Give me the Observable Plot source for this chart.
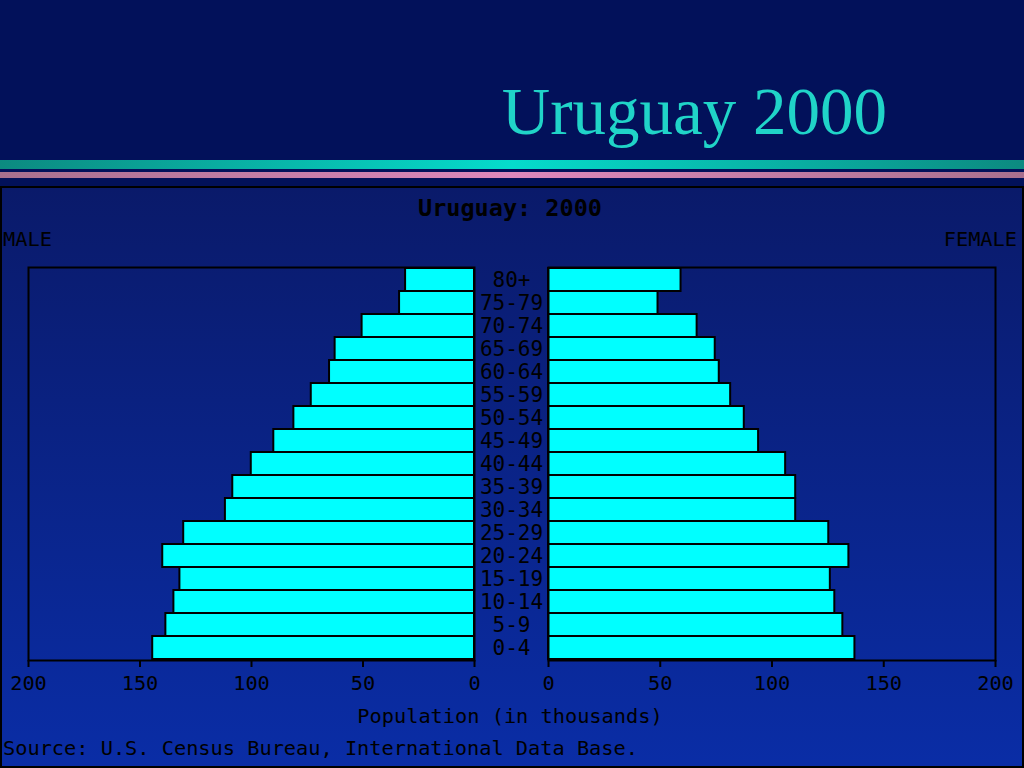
<!DOCTYPE html>
<html>
<head>
<meta charset="utf-8">
<script src="https://cdn.jsdelivr.net/npm/d3@7"></script>
<script src="https://cdn.jsdelivr.net/npm/@observablehq/plot@0.6"></script>
<style>
  html, body { margin: 0; padding: 0; }
  body { width: 1024px; height: 768px; background: #02115a; overflow: hidden; position: relative; }
  .abs { position: absolute; }
  .mono { font-family: "DejaVu Sans Mono", "Liberation Mono", monospace; color: #000; white-space: pre; }
  #title { left: 0; width: 887px; text-align: right; top: 71px; font-family: "Liberation Serif", "DejaVu Serif", serif; font-size: 67px; color: #20d4c8; line-height: 80px; }
  #line1 { left: 0; top: 160px; width: 1024px; height: 9px; background: linear-gradient(to right, #0c8a80, #05dccc 50%, #0c8a80); }
  #line2 { left: 0; top: 172px; width: 1024px; height: 6px; background: linear-gradient(to right, #a8708e, #de88bc 50%, #a8708e); }
  #box { left: 0; top: 186px; width: 1020px; height: 578px; border: 2px solid #000; background: linear-gradient(#0a1a6a, #0a2da6); }
  svg.plot { position: absolute; background: transparent; }
</style>
</head>
<body>
<div id="title" class="abs">Uruguay 2000</div>
<div id="line1" class="abs"></div>
<div id="line2" class="abs"></div>
<div id="box" class="abs"></div>
<div class="abs mono" id="ctitle" style="left:0;width:1020px;text-align:center;top:194px;font-size:23.5px;font-weight:bold;">Uruguay: 2000</div>
<div class="abs mono" style="left:3px;top:227px;font-size:20.3px;">MALE</div>
<div class="abs mono" style="right:7px;top:227px;font-size:20.3px;">FEMALE</div>
<div class="abs mono" style="left:0;width:1020px;text-align:center;top:704px;font-size:20.3px;">Population (in thousands)</div>
<div class="abs mono" style="left:3px;top:736px;font-size:20.3px;">Source: U.S. Census Bureau, International Data Base.</div>
<div id="left" class="abs" style="left:0;top:257px;"></div>
<div id="right" class="abs" style="left:520px;top:257px;"></div>
<script>
const ages = ["80+","75-79","70-74","65-69","60-64","55-59","50-54","45-49","40-44","35-39","30-34","25-29","20-24","15-19","10-14","5-9","0-4"];
const male = [30.9,33.6,50.4,62.5,65.0,73.2,81.0,90.0,100.1,108.4,111.7,130.4,139.8,132.1,134.8,138.4,144.3];
const female = [59.3,49.0,66.5,74.6,76.4,81.5,87.6,94.0,106.1,110.6,110.6,125.4,134.4,126.1,128.1,131.7,137.1];
const xTicks = [0,50,100,150,200];

const rows = ages.map((a, i) => ({age: a, male: male[i], female: female[i]}));
const font = '"DejaVu Sans Mono", "Liberation Mono", monospace';
const style = {background: "transparent", color: "black", fontFamily: font, fontSize: "20px", overflow: "visible"};

const leftPlot = Plot.plot({
  width: 548, height: 443,
  marginTop: 10, marginBottom: 40, marginLeft: 28, marginRight: 74,
  x: {domain: [200, 0], label: null},
  y: {domain: ages, padding: 0, axis: null},
  style,
  marks: [
    Plot.barX(rows, {x: "male", y: "age", fill: "#00ffff", stroke: "black", strokeWidth: 2}),
    Plot.frame({stroke: "black", strokeWidth: 2}),
    Plot.axisX({ticks: xTicks, tickSize: 7, tickPadding: 8, strokeWidth: 2, fontSize: 20.3, label: null}),
    Plot.text(ages, {y: d => d, frameAnchor: "right", dx: 37, textAnchor: "middle", fontSize: 21, fill: "black"})
  ]
});
document.getElementById("left").appendChild(leftPlot);

const rightPlot = Plot.plot({
  width: 504, height: 443,
  marginTop: 10, marginBottom: 40, marginLeft: 28, marginRight: 29,
  x: {domain: [0, 200], label: null},
  y: {domain: ages, padding: 0, axis: null},
  style,
  marks: [
    Plot.barX(rows, {x: "female", y: "age", fill: "#00ffff", stroke: "black", strokeWidth: 2}),
    Plot.frame({stroke: "black", strokeWidth: 2}),
    Plot.axisX({ticks: xTicks, tickSize: 7, tickPadding: 8, strokeWidth: 2, fontSize: 20.3, label: null})
  ]
});
document.getElementById("right").appendChild(rightPlot);
</script>
</body>
</html>
